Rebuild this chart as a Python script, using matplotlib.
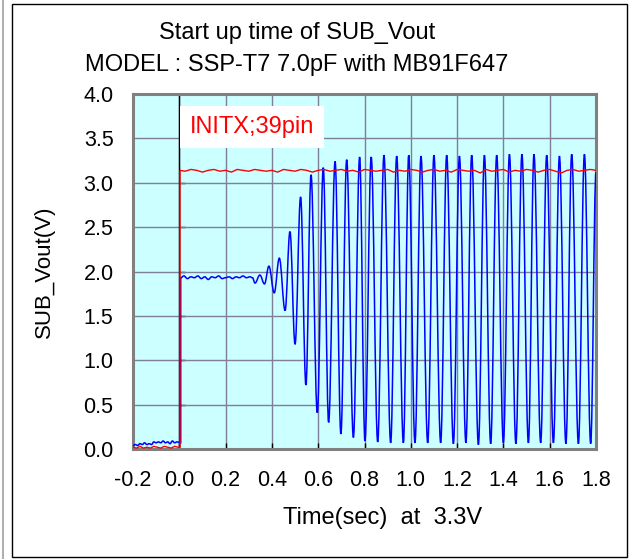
import matplotlib
matplotlib.use('Agg')
import matplotlib.pyplot as plt
from matplotlib.path import Path
from matplotlib.patches import PathPatch, Rectangle
from matplotlib.lines import Line2D

plt.rcParams['font.family'] = ['Liberation Sans', 'DejaVu Sans']

# INITX (red)
red_t = [-0.200, -0.185, -0.170, -0.155, -0.140, -0.125, -0.110, -0.095, -0.080, -0.065,
         -0.050, -0.035, -0.020, -0.005, 0.003, 0.003,
         0.025, 0.050, 0.075, 0.100, 0.125, 0.150, 0.175, 0.200, 0.225, 0.250,
         0.275, 0.300, 0.325, 0.350, 0.375, 0.400, 0.425, 0.450, 0.475, 0.500,
         0.525, 0.550, 0.575, 0.600, 0.625, 0.650, 0.675, 0.700, 0.725, 0.750,
         0.775, 0.800, 0.825, 0.850, 0.875, 0.900, 0.925, 0.950, 0.975, 1.000,
         1.025, 1.050, 1.075, 1.100, 1.125, 1.150, 1.175, 1.200, 1.225, 1.250,
         1.275, 1.300, 1.325, 1.350, 1.375, 1.400, 1.425, 1.450, 1.475, 1.500,
         1.525, 1.550, 1.575, 1.600, 1.625, 1.650, 1.675, 1.700, 1.725, 1.750,
         1.775, 1.800]
red_v = [0.02, 0.01, 0.03, 0.01, 0.02, 0.01, 0.03, 0.02, 0.01, 0.03,
         0.02, 0.01, 0.03, 0.02, 0.02, 3.14,
         3.13, 3.15, 3.14, 3.12, 3.14, 3.15, 3.13, 3.14, 3.12, 3.15,
         3.14, 3.13, 3.15, 3.14, 3.13, 3.14, 3.12, 3.15, 3.14, 3.13,
         3.15, 3.14, 3.12, 3.14, 3.15, 3.13, 3.14, 3.15, 3.13, 3.14,
         3.12, 3.15, 3.14, 3.13, 3.14, 3.15, 3.12, 3.14, 3.13, 3.15,
         3.14, 3.12, 3.14, 3.15, 3.13, 3.14, 3.12, 3.15, 3.14, 3.13,
         3.14, 3.11, 3.15, 3.13, 3.14, 3.15, 3.12, 3.14, 3.13, 3.15,
         3.14, 3.12, 3.14, 3.15, 3.13, 3.11, 3.14, 3.15, 3.13, 3.14,
         3.15, 3.14]

# SUB_Vout (blue): noise, plateau, then peaks / troughs of the oscillation
blue_t = [-0.200, -0.190, -0.180, -0.170, -0.160, -0.150, -0.140, -0.130, -0.120, -0.110,
          -0.100, -0.090, -0.080, -0.070, -0.060, -0.050, -0.040, -0.030, -0.020, -0.010,
          0.006, 0.006,
          0.020, 0.035, 0.050, 0.065, 0.080, 0.095, 0.110, 0.125, 0.140, 0.155,
          0.170, 0.185, 0.200, 0.215, 0.230, 0.245, 0.260, 0.275, 0.290, 0.305, 0.316,
          0.327, 0.348, 0.368, 0.387, 0.410, 0.432, 0.457, 0.478, 0.500, 0.524,
          0.547, 0.569, 0.596, 0.622, 0.645, 0.673, 0.698, 0.723, 0.752, 0.779,
          0.802, 0.829, 0.857, 0.884, 0.913, 0.939, 0.968, 0.991, 1.018, 1.044,
          1.073, 1.100, 1.129, 1.155, 1.184, 1.210, 1.238, 1.263, 1.292, 1.318,
          1.345, 1.371, 1.400, 1.426, 1.454, 1.480, 1.508, 1.532, 1.561, 1.587,
          1.616, 1.642, 1.670, 1.695, 1.724, 1.750, 1.777, 1.800]
blue_v = [0.04, 0.05, 0.04, 0.06, 0.05, 0.07, 0.05, 0.06, 0.05, 0.08,
          0.07, 0.08, 0.07, 0.09, 0.07, 0.08, 0.06, 0.09, 0.07, 0.08,
          0.07, 1.93,
          1.95, 1.92, 1.94, 1.93, 1.95, 1.92, 1.94, 1.91, 1.94, 1.93,
          1.95, 1.92, 1.93, 1.94, 1.92, 1.94, 1.93, 1.95, 1.93, 1.94, 1.93,
          1.87, 1.96, 1.86, 2.06, 1.76, 2.15, 1.56, 2.45, 1.18, 2.84,
          0.72, 3.09, 0.41, 3.17, 0.30, 3.24, 0.17, 3.26, 0.13, 3.29,
          0.09, 3.29, 0.08, 3.31, 0.07, 3.30, 0.07, 3.31, 0.07, 3.30,
          0.07, 3.31, 0.07, 3.31, 0.06, 3.30, 0.07, 3.31, 0.05, 3.31,
          0.06, 3.31, 0.07, 3.32, 0.06, 3.32, 0.07, 3.32, 0.07, 3.31,
          0.07, 3.30, 0.06, 3.32, 0.06, 3.32, 0.06, 3.12]

x_ticks = [-0.2, 0.0, 0.2, 0.4, 0.6, 0.8, 1.0, 1.2, 1.4, 1.6, 1.8]
y_ticks = [0.0, 0.5, 1.0, 1.5, 2.0, 2.5, 3.0, 3.5, 4.0]

fig = plt.figure(figsize=(6.29, 5.59), dpi=100)
ax = fig.add_axes([133/629, 110/559, 463/629, 355/559])
ax.set_facecolor('#ccffff')

# smooth the blue trace with cubic segments (flat at each read point)
verts = [(blue_t[0], blue_v[0])]
codes = [Path.MOVETO]
for i in range(1, len(blue_t)):
    t0, v0 = blue_t[i-1], blue_v[i-1]
    t1, v1 = blue_t[i], blue_v[i]
    d = 0.38 * (t1 - t0)
    verts += [(t0 + d, v0), (t1 - d, v1), (t1, v1)]
    codes += [Path.CURVE4] * 3
ax.add_patch(PathPatch(Path(verts, codes), facecolor='none', edgecolor='#0000ff', lw=1.1, zorder=3))
ax.plot(red_t, red_v, color='#ff0000', lw=1.0, zorder=4)

ax.axvline(0, color='black', lw=1.0, zorder=2)
ax.set_xlim(-0.2, 1.8)
ax.set_ylim(0, 4.0)
ax.set_xticks(x_ticks)
ax.set_yticks(y_ticks)
ax.set_xticklabels(['%.1f' % v for v in x_ticks], fontsize=15.5)
ax.set_yticklabels(['%.1f' % v for v in y_ticks], fontsize=15.5)
ax.tick_params(axis='x', direction='in', length=4, width=1, color='black', pad=15)
ax.tick_params(axis='y', length=0, pad=14)
ax.grid(True, color='#7f7f99', lw=1.0)
ax.set_axisbelow(True)
for s in ax.spines.values():
    s.set_color('#808080')
    s.set_linewidth(2.2)

# y axis crossing at x=0 with inward ticks
sec = ax.secondary_yaxis(0.1)
sec.set_yticks(y_ticks)
sec.tick_params(direction='in', length=4, width=1, color='black', labelleft=False)
sec.spines['left'].set_visible(False)

ax.text(0.045, 3.63, 'INITX;39pin', color='#ff0000', fontsize=17, va='center', ha='left',
        bbox=dict(facecolor='white', edgecolor='none', pad=7), zorder=5)

ax.set_ylabel('SUB_Vout(V)', fontsize=16, va='center')
ax.yaxis.set_label_coords(-(133-44)/463, 0.5)
ax.set_xlabel('Time(sec)  at  3.3V', fontsize=17, va='center')
ax.xaxis.set_label_coords((383-133)/463, -(518-449)/355)

fig.text(297/629, 1-33/559, 'Start up time of SUB_Vout', fontsize=17, ha='center', va='center')
fig.text(297/629, 1-65/559, 'MODEL : SSP-T7 7.0pF with MB91F647', fontsize=17, ha='center', va='center')

fig.add_artist(Rectangle((12/629, 2.3/559), (627-12)/629, (555-2.3)/559,
                         transform=fig.transFigure, fill=False, ec='black', lw=1))
fig.add_artist(Line2D([3/629, 3/629], [0, 1], transform=fig.transFigure, color='#b0b0b0', lw=1.5))

plt.savefig('out.png', dpi=100)
